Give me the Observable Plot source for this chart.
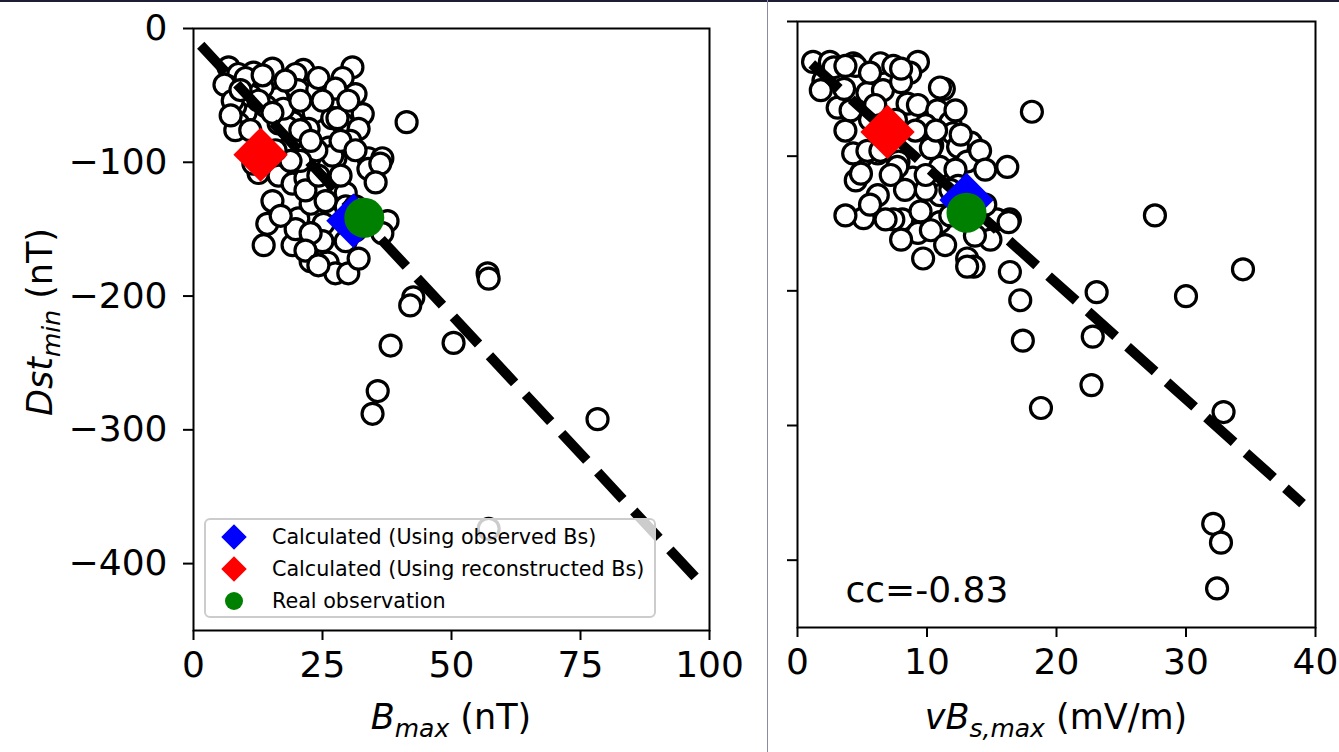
<!DOCTYPE html>
<html>
<head>
<meta charset="utf-8">
<script src="https://cdn.jsdelivr.net/npm/d3@7"></script>
<script src="https://cdn.jsdelivr.net/npm/@observablehq/plot@0.6"></script>
<style>
  html, body { margin: 0; padding: 0; background: white; }
  #page { position: relative; width: 1339px; height: 752px; overflow: hidden; background: white; }
  #left { position: absolute; left: 0; top: 0; width: 768px; }
  #right { position: absolute; left: 768px; top: 0; width: 571px; }
  #topbar { position: absolute; left: 0; top: 0; width: 1339px; height: 2px; background: #1d1d36; z-index: 5; }
  #divider { position: absolute; left: 767px; top: 0; width: 1px; height: 752px; background: #8a8aa6; z-index: 5; }
  svg text { font-family: "DejaVu Sans", sans-serif; }
</style>
</head>
<body>
<div id="page">
  <div id="left"></div>
  <div id="right"></div>
  <div id="topbar"></div>
  <div id="divider"></div>
</div>
<script>
// Storm events: peak field strength B_max (nT) against minimum Dst (nT)
const bMax = [6.8, 8.7, 11.6, 15.3, 6.6, 21.3, 19.8, 30.8, 28.9, 31.4, 25.0, 16.3, 20.2, 23.3, 10.1, 8.1,
  8.7, 8.1, 19.2, 26.9, 28.9, 32.8, 32.0, 41.3, 16.5, 13.4, 22.3, 26.2, 27.5, 33.9, 36.6, 12.6, 16.5, 19.2,
  15.3, 14.3, 20.3, 22.7, 25.2, 19.2, 25.0, 26.0, 27.5, 30.0, 32.0, 37.6, 36.6, 26.2, 26.9, 33.9, 36.2, 35.3,
  28.1, 29.5, 21.7, 19.8, 6.0, 24.0, 27.9, 18.2, 11.6, 14.0, 17.4, 11.0, 7.6, 20.7, 23.8, 20.7, 17.8, 13.4,
  30.4, 29.5, 22.7, 31.4, 22.7, 13.6,
  10.1, 13.4, 17.8, 24.2, 27.5, 30.0, 12.6, 15.3, 20.7, 25.0, 28.5, 31.4, 22.7, 18.8, 15.9, 21.7, 24.2,
  28.5, 25.6, 31.4, 16.9, 21.7, 24.2, 29.5, 9.1, 11.0, 7.2,
  57.0, 57.2, 42.6, 42.0, 38.2, 50.4, 35.7, 34.7, 78.3, 57.2];
const dstMinB = [-29, -34, -33, -30, -43, -31, -34, -29, -37, -49, -45, -52, -46, -63, -63, -58,
  -71, -76, -70, -67, -71, -64, -75, -70, -71, -44, -75, -89, -97, -97, -97, -108, -110, -116,
  -129, -146, -142, -131, -146, -162, -159, -175, -183, -183, -172, -144, -153, -103, -95, -105, -101, -115,
  -118, -123, -112, -150, -42, -46, -67, -74, -101, -58, -60, -50, -54, -76, -91, -99, -91, -90,
  -84, -133, -153, -151, -174, -162,
  -37, -35, -39, -37, -45, -54, -54, -63, -54, -54, -84, -91, -84, -99, -91, -121, -110,
  -110, -129, -133, -140, -166, -177, -159, -46, -76, -65,
  -183, -187, -201, -207, -237, -235, -271, -288, -292, -374];

// Same events: peak dawn-dusk electric field vBs_max (mV/m) against minimum Dst (nT)
const vBsMax = [1.2, 2.5, 4.3, 6.4, 9.3, 8.7, 7.4, 2.0, 2.8, 5.4, 6.6, 11.3, 3.1, 3.7, 8.5, 9.3, 10.8,
  11.8, 12.0, 13.4, 18.1, 10.4, 13.6, 16.2, 4.9, 4.5, 6.2, 7.8, 8.9, 11.0, 5.1, 8.1, 9.5, 11.0, 9.3, 9.7,
  13.1, 13.6, 14.9, 16.4, 15.4, 16.4, 17.2, 4.3, 6.2, 12.4, 10.3, 13.1, 4.9, 7.7, 5.4, 6.4, 4.5, 11.0,
  7.4, 16.3, 3.6, 8.0, 9.9, 7.0, 5.6, 12.2, 12.4, 11.0, 9.9, 13.1,
  3.7, 5.6, 8.0, 1.8, 4.1, 6.0, 7.6, 9.1, 10.7, 12.2, 12.6, 14.1, 14.5, 13.0, 11.8, 9.9, 8.3, 7.2,
  5.6, 6.8, 10.3, 11.8, 14.5, 13.7, 11.4, 8.0, 3.7, 6.4,
  27.6, 34.4, 30.0, 23.1, 17.4, 22.8, 22.7, 18.8, 32.9, 32.1, 32.7, 32.4];
const dstMinE = [-30, -30, -31, -31, -30, -38, -33, -44, -34, -53, -51, -50, -64, -81, -61, -62, -66,
  -75, -83, -90, -67, -92, -101, -108, -101, -118, -129, -104, -116, -108, -146, -147, -141, -149, -157, -176,
  -176, -182, -162, -147, -147, -186, -207, -98, -98, -93, -94, -104, -113, -108, -96, -79, -33, -49,
  -147, -149, -50, -45, -77, -88, -73, -110, -122, -129, -125, -182,
  -33, -38, -35, -51, -66, -62, -73, -81, -81, -66, -84, -96, -110, -133, -125, -114, -125, -114,
  -136, -147, -155, -144, -136, -159, -166, -162, -144, -96,
  -144, -184, -204, -201, -237, -234, -270, -287, -290, -373, -387, -421];

// Highlighted event: two model estimates and the observed value
const markerLabels = ["Calculated (Using observed Bs)", "Calculated (Using reconstructed Bs)", "Real observation"];
const markerColors = ["blue", "red", "green"];
const markerSymbols = ["diamond2", "diamond2", "circle"];
const markerBmax = [31.0, 13.0, 33.1];
const markerDstB = [-143.7, -94.3, -141.5];
const markerVBs = [13.05, 6.95, 13.05];
const markerDstE = [-132.6, -82.0, -142.0];

// Linear fit lines (end points)
const fitB = [1.4, 97.7];
const fitDstB = [-12.5, -412];
const fitE = [1.1, 39.0];
const fitDstE = [-31.5, -358];

const ccLabel = "cc=-0.83";

const yTicks = [0, -100, -200, -300, -400];
const bTicks = [0, 25, 50, 75, 100];
const eTicks = [0, 10, 20, 30, 40];

const minusFmt = d => (d < 0 ? "\u2212" + Math.abs(d) : String(d));
const FS = 36;

const scatter = (xs, ys) => xs.map((x, i) => ({x, y: ys[i]}));
const markers = (xs, ys) => markerLabels.map((label, i) => ({
  label, x: xs[i], y: ys[i], color: markerColors[i], symbol: markerSymbols[i]
}));

function panel({pts, fitX, fitY, mk, xDomain, xTicks, width, marginLeft, marginRight, marginTop, marginBottom, yLabels, extra = []}) {
  const fit = fitX.map((x, i) => ({x, y: fitY[i]}));
  const diamonds = mk.filter(d => d.symbol !== "circle");
  const circles = mk.filter(d => d.symbol === "circle");
  return Plot.plot({
    width, height: 752,
    marginLeft, marginRight, marginTop, marginBottom,
    x: {domain: xDomain},
    y: {domain: [-450, 0]},
    style: {fontFamily: "'DejaVu Sans', sans-serif", fontSize: FS + "px", color: "black", background: "white", overflow: "visible"},
    marks: [
      Plot.dot(pts, {x: "x", y: "y", r: 10.5, fill: "white", stroke: "black", strokeWidth: 3.2}),
      Plot.line(fit, {x: "x", y: "y", stroke: "black", strokeWidth: 10, strokeDasharray: "37,16", strokeLinecap: "butt"}),
      Plot.dot(diamonds, {x: "x", y: "y", symbol: "diamond2", r: 24.5, fill: "color", stroke: null}),
      Plot.dot(circles, {x: "x", y: "y", r: 20, fill: "color", stroke: null}),
      ...extra,
      Plot.frame({stroke: "black", strokeWidth: 2}),
      Plot.axisX({ticks: xTicks, tickSize: 10, tickPadding: 11, fontSize: FS, strokeWidth: 2, label: null, tickFormat: minusFmt}),
      Plot.axisY({ticks: yTicks, tickSize: 10, tickPadding: 16, fontSize: FS, strokeWidth: 2, label: null,
        tickFormat: yLabels ? minusFmt : () => ""})
    ]
  });
}

const leftPlot = panel({
  pts: scatter(bMax, dstMinB), fitX: fitB, fitY: fitDstB, mk: markers(markerBmax, markerDstB),
  xDomain: [0, 100], xTicks: bTicks, width: 768,
  marginLeft: 193, marginRight: 59, marginTop: 28, marginBottom: 122, yLabels: true
});

const rightPlot = panel({
  pts: scatter(vBsMax, dstMinE), fitX: fitE, fitY: fitDstE, mk: markers(markerVBs, markerDstE),
  xDomain: [0, 40], xTicks: eTicks, width: 571,
  marginLeft: 29, marginRight: 24, marginTop: 21, marginBottom: 125, yLabels: false,
  extra: [Plot.text([ccLabel], {x: 3.7, y: -431, text: d => d, textAnchor: "start", lineAnchor: "bottom", fontSize: 36, fill: "black"})]
});

document.getElementById("left").appendChild(leftPlot);
document.getElementById("right").appendChild(rightPlot);

// Axis titles with italic symbols and subscripts
function mathLabel(sel, parts) {
  parts.forEach(p => {
    const t = sel.append("tspan").text(p.text);
    if (p.italic) t.attr("font-style", "italic");
    if (p.size) t.attr("font-size", p.size);
    if (p.dy) t.attr("dy", p.dy);
  });
}

const TFS = 35;
const L = d3.select(leftPlot);
const yTitle = L.append("text")
  .attr("transform", "translate(52,322) rotate(-90)")
  .attr("text-anchor", "middle").attr("font-size", TFS).attr("fill", "black")
  .style("white-space", "pre");
mathLabel(yTitle, [
  {text: "Dst", italic: true},
  {text: "min", italic: true, size: 25, dy: 8},
  {text: " (nT)", dy: -8}
]);

const xTitleL = L.append("text")
  .attr("x", 451).attr("y", 729)
  .attr("text-anchor", "middle").attr("font-size", TFS).attr("fill", "black")
  .style("white-space", "pre");
mathLabel(xTitleL, [
  {text: "B", italic: true},
  {text: "max", italic: true, size: 25, dy: 8},
  {text: " (nT)", dy: -8}
]);

const R = d3.select(rightPlot);
const xTitleR = R.append("text")
  .attr("x", 1056 - 768).attr("y", 729)
  .attr("text-anchor", "middle").attr("font-size", TFS).attr("fill", "black")
  .style("white-space", "pre");
mathLabel(xTitleR, [
  {text: "vB", italic: true},
  {text: "s,max", italic: true, size: 25, dy: 8},
  {text: " (mV/m)", dy: -8}
]);

// Legend box in the lower-left corner of the left panel
const leg = L.append("g").attr("transform", "translate(205,519)");
leg.append("rect").attr("width", 450).attr("height", 98).attr("rx", 5)
  .attr("fill", "white").attr("fill-opacity", 0.8)
  .attr("stroke", "#cccccc").attr("stroke-width", 2);
const sym = d3.symbol();
markerLabels.forEach((label, i) => {
  const cy = 18 + i * 32;
  const g = leg.append("g").attr("transform", `translate(29,${cy})`);
  if (markerSymbols[i] === "circle") {
    g.append("circle").attr("r", 9).attr("fill", markerColors[i]);
  } else {
    g.append("path").attr("d", sym.type(d3.symbolDiamond2).size(Math.PI * 11.5 * 11.5)()).attr("fill", markerColors[i]);
  }
  leg.append("text").attr("x", 67).attr("y", cy + 7).attr("text-anchor", "start")
    .attr("font-size", 20.7).attr("fill", "black").text(label);
});
</script>
</body>
</html>
